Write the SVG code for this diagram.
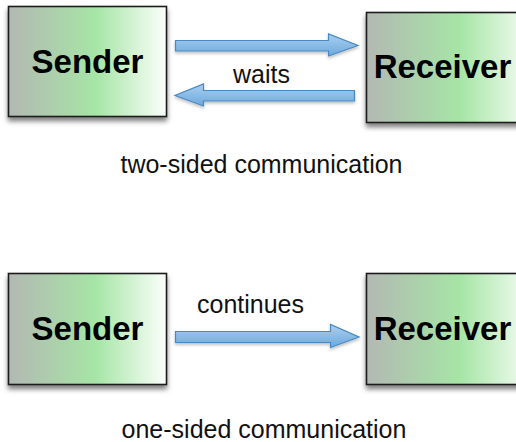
<svg xmlns="http://www.w3.org/2000/svg" width="516" height="442" viewBox="0 0 516 442">
<style>
.box{stroke:#1e1e1e;stroke-width:1.6;fill:url(#g);filter:url(#sh)}
.lbl{font-family:"Liberation Sans",Arial,sans-serif;font-weight:bold;font-size:33px;fill:#000;text-anchor:middle}
.txt{font-family:"Liberation Sans",Arial,sans-serif;font-size:25px;fill:#111}
.arr{fill:url(#b);stroke:#4a88c4;stroke-width:1.2;filter:url(#ash)}
</style>
<defs>
<linearGradient id="g" x1="0" y1="0" x2="1" y2="0">
<stop offset="0" stop-color="#b3b8b3"/>
<stop offset="0.55" stop-color="#a6e5a6"/>
<stop offset="1" stop-color="#fbfefb"/>
</linearGradient>
<linearGradient id="b" x1="0" y1="0" x2="0" y2="1">
<stop offset="0" stop-color="#a8cff0"/>
<stop offset="1" stop-color="#6ea9dc"/>
</linearGradient>
<filter id="sh" x="-10%" y="-10%" width="120%" height="130%">
<feDropShadow dx="0" dy="4" stdDeviation="2.5" flood-color="#000" flood-opacity="0.5"/>
</filter>
<filter id="ash" x="-10%" y="-30%" width="120%" height="170%">
<feDropShadow dx="0" dy="2" stdDeviation="1.5" flood-color="#000" flood-opacity="0.25"/>
</filter>
</defs>

<g id="sender1">
<rect class="box" x="8.5" y="6.5" width="158" height="110"/>
<text class="lbl" x="87.5" y="73">Sender</text>
</g>
<g id="receiver1">
<rect class="box" x="366.5" y="12.5" width="170" height="110"/>
<text class="lbl" x="442.5" y="78">Receiver</text>
</g>
<g id="sender2">
<rect class="box" x="8.5" y="273.5" width="158" height="111"/>
<text class="lbl" x="87.5" y="340">Sender</text>
</g>
<g id="receiver2">
<rect class="box" x="366.5" y="273.5" width="170" height="111"/>
<text class="lbl" x="442.5" y="340">Receiver</text>
</g>

<g id="connectors">
<path class="arr" d="M175.5,40.5 H328.5 V34 L358,45.5 L328.5,56 V51 H175.5 Z"/>
<path class="arr" d="M354.5,90.5 H203.5 V84 L175,95.5 L203.5,106 V101 H354.5 Z"/>
<path class="arr" d="M175.5,331.5 H330.5 V324.5 L359,337 L330.5,347.5 V342.5 H175.5 Z"/>
</g>

<text class="txt" x="233" y="83">waits</text>
<text class="txt" x="197" y="313">continues</text>
<text class="txt" x="261.5" y="173" text-anchor="middle">two-sided communication</text>
<text class="txt" x="264" y="438" text-anchor="middle">one-sided communication</text>
</svg>
